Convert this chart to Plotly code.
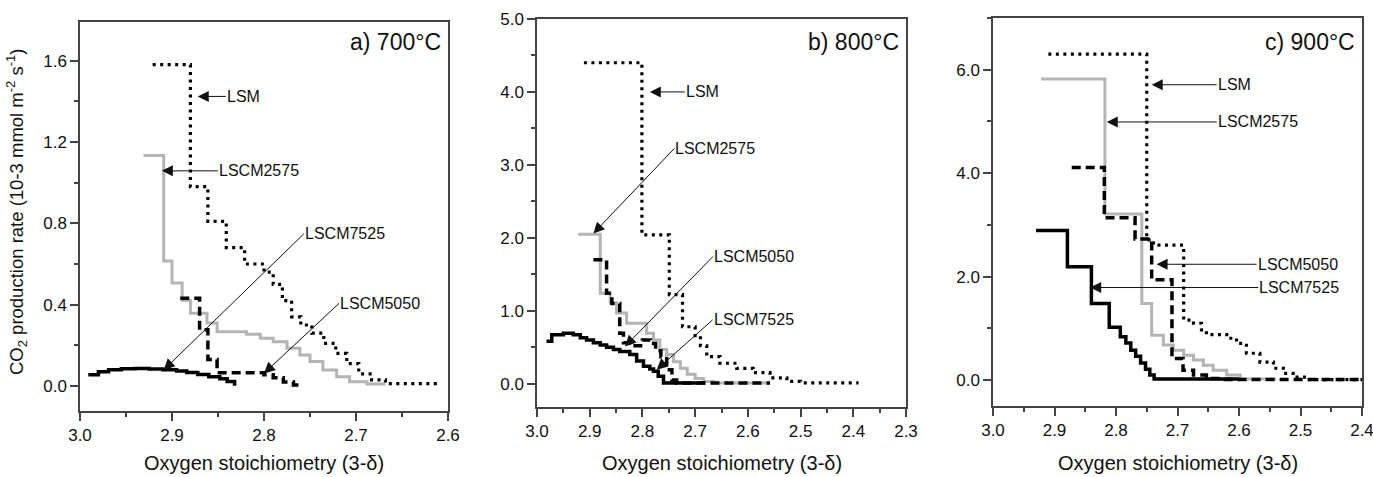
import plotly.graph_objects as go

# ---- 700 °C ----
lsm_700_x = [2.921, 2.880, 2.861, 2.841, 2.821, 2.800, 2.790, 2.780, 2.770, 2.760, 2.748, 2.735, 2.722, 2.710, 2.697, 2.683, 2.668, 2.610]
lsm_700_y = [1.58, 0.98, 0.81, 0.68, 0.60, 0.56, 0.50, 0.42, 0.34, 0.30, 0.26, 0.21, 0.16, 0.11, 0.06, 0.03, 0.012, 0.012]
l2575_700_x = [2.931, 2.909, 2.900, 2.889, 2.880, 2.862, 2.851, 2.819, 2.804, 2.790, 2.775, 2.761, 2.750, 2.736, 2.721, 2.707, 2.688, 2.668]
l2575_700_y = [1.134, 0.615, 0.506, 0.42, 0.358, 0.31, 0.267, 0.255, 0.235, 0.218, 0.186, 0.153, 0.12, 0.079, 0.046, 0.021, 0.01, 0.01]
l5050_700_x = [2.891, 2.870, 2.861, 2.851, 2.800, 2.790, 2.779, 2.768, 2.759]
l5050_700_y = [0.432, 0.276, 0.13, 0.065, 0.055, 0.04, 0.02, 0.005, 0.005]
l7525_700_x = [2.991, 2.980, 2.969, 2.955, 2.940, 2.925, 2.910, 2.895, 2.884, 2.872, 2.860, 2.848, 2.840, 2.832, 2.830]
l7525_700_y = [0.055, 0.07, 0.08, 0.085, 0.086, 0.084, 0.08, 0.074, 0.066, 0.057, 0.046, 0.035, 0.022, 0.01, 0.01]

# ---- 800 °C ----
lsm_800_x = [2.911, 2.801, 2.749, 2.724, 2.700, 2.690, 2.678, 2.653, 2.621, 2.590, 2.558, 2.526, 2.500, 2.390]
lsm_800_y = [4.40, 2.04, 1.22, 0.78, 0.66, 0.52, 0.37, 0.28, 0.21, 0.15, 0.08, 0.03, 0.01, 0.01]
l2575_800_x = [2.922, 2.880, 2.861, 2.849, 2.830, 2.811, 2.792, 2.779, 2.767, 2.754, 2.741, 2.728, 2.715, 2.700, 2.684, 2.665, 2.565]
l2575_800_y = [2.05, 1.24, 1.11, 0.97, 0.83, 0.83, 0.69, 0.60, 0.47, 0.40, 0.30, 0.21, 0.13, 0.07, 0.03, 0.01, 0.01]
l5050_800_x = [2.893, 2.868, 2.858, 2.843, 2.836, 2.825, 2.800, 2.785, 2.775, 2.765, 2.754, 2.744, 2.735, 2.558]
l5050_800_y = [1.70, 1.24, 1.10, 0.69, 0.56, 0.52, 0.60, 0.55, 0.45, 0.37, 0.19, 0.05, 0.01, 0.01]
l7525_800_x = [2.982, 2.972, 2.950, 2.931, 2.918, 2.906, 2.893, 2.880, 2.868, 2.855, 2.843, 2.824, 2.811, 2.798, 2.786, 2.779, 2.770, 2.760, 2.681]
l7525_800_y = [0.58, 0.67, 0.69, 0.67, 0.63, 0.60, 0.56, 0.53, 0.50, 0.47, 0.44, 0.40, 0.31, 0.24, 0.20, 0.17, 0.10, 0.01, 0.01]

# ---- 900 °C ----
lsm_900_x = [2.910, 2.750, 2.739, 2.690, 2.674, 2.661, 2.653, 2.620, 2.604, 2.588, 2.566, 2.544, 2.528, 2.512, 2.490, 2.400]
lsm_900_y = [6.30, 2.71, 2.61, 1.16, 1.10, 0.97, 0.88, 0.81, 0.71, 0.52, 0.35, 0.23, 0.13, 0.06, 0.01, 0.01]
l2575_900_x = [2.922, 2.818, 2.758, 2.742, 2.723, 2.707, 2.690, 2.674, 2.658, 2.642, 2.620, 2.598, 2.540]
l2575_900_y = [5.82, 3.21, 1.48, 0.87, 0.68, 0.58, 0.48, 0.39, 0.29, 0.19, 0.10, 0.02, 0.02]
l5050_900_x = [2.872, 2.819, 2.769, 2.742, 2.709, 2.691, 2.674, 2.653, 2.630, 2.400]
l5050_900_y = [4.11, 3.14, 2.73, 1.94, 0.42, 0.19, 0.10, 0.03, 0.01, 0.01]
l7525_900_x = [2.930, 2.879, 2.840, 2.811, 2.793, 2.784, 2.776, 2.768, 2.760, 2.752, 2.745, 2.738, 2.600]
l7525_900_y = [2.89, 2.19, 1.48, 1.02, 0.84, 0.72, 0.58, 0.46, 0.33, 0.21, 0.10, 0.02, 0.02]

panel_titles = ["a) 700°C", "b) 800°C", "c) 900°C"]
x_title = "Oxygen stoichiometry (3-δ)"
y_title = "CO<sub>2</sub> production rate (10-3 mmol m<sup>-2</sup> s<sup>-1</sup>)"

W, H = 1373, 477
FONT = "Liberation Sans, Arial, sans-serif"
AX = "#444444"

# plot boxes in pixels: (left, right, top, bottom)
boxes = [(80, 448, 22, 411), (537, 906, 19, 407), (993, 1362, 18, 406)]
x_ranges = [[3.0, 2.6], [3.0, 2.3], [3.0, 2.4]]
y_ranges = [[-0.123, 1.79], [-0.32, 5.0], [-0.5, 7.0]]
y_dticks = [0.4, 1.0, 2.0]

styles = {
    "2575": dict(color="#b4b4b4", width=3),
    "7525": dict(color="#000000", width=3.5),
    "5050": dict(color="#000000", width=3.5, dash="9px,5px"),
    "LSM": dict(color="#000000", width=3.2, dash="3px,4.5px"),
}

series = [
    [("2575", l2575_700_x, l2575_700_y), ("7525", l7525_700_x, l7525_700_y),
     ("5050", l5050_700_x, l5050_700_y), ("LSM", lsm_700_x, lsm_700_y)],
    [("2575", l2575_800_x, l2575_800_y), ("7525", l7525_800_x, l7525_800_y),
     ("5050", l5050_800_x, l5050_800_y), ("LSM", lsm_800_x, lsm_800_y)],
    [("2575", l2575_900_x, l2575_900_y), ("7525", l7525_900_x, l7525_900_y),
     ("5050", l5050_900_x, l5050_900_y), ("LSM", lsm_900_x, lsm_900_y)],
]

# label callouts: (text, arrow tip x, arrow tip y, label offset px dx, dy)
callouts = [
    [("LSM", 2.872, 1.424, 28, 0),
     ("LSCM2575", 2.911, 1.058, 56, 0),
     ("LSCM7525", 2.909, 0.079, 140, -136),
     ("LSCM5050", 2.800, 0.062, 75, -70)],
    [("LSM", 2.786, 4.0, 35, 0),
     ("LSCM2575", 2.893, 2.06, 81, -85),
     ("LSCM5050", 2.833, 0.51, 88, -90),
     ("LSCM7525", 2.773, 0.19, 56, -50)],
    [("LSM", 2.742, 5.71, 65, 0),
     ("LSCM2575", 2.815, 4.99, 110, 0),
     ("LSCM5050", 2.734, 2.24, 100, 0),
     ("LSCM7525", 2.842, 1.79, 168, 0)],
]

fig = go.Figure()
annotations = []
layout_axes = {}

for i in range(3):
    n = "" if i == 0 else str(i + 1)
    xa, ya = "x" + n, "y" + n
    for key, xs, ys in series[i]:
        fig.add_trace(go.Scatter(x=xs, y=ys, mode="lines", line_shape="hv",
                                 line=styles[key], xaxis=xa, yaxis=ya,
                                 showlegend=False, hoverinfo="skip"))
    l, r, t, b = boxes[i]
    common = dict(showline=True, linecolor=AX, linewidth=1.5, mirror=True,
                  ticks="outside", ticklen=8, tickwidth=1.5, tickcolor=AX,
                  showgrid=False, zeroline=False, tickformat=".1f",
                  automargin=False, ticklabeloverflow="allow",
                  tickfont=dict(family=FONT, size=17, color="#111111"))
    layout_axes["xaxis" + n] = dict(
        common, domain=[l / W, r / W], range=x_ranges[i], dtick=0.1, tick0=0,
        anchor=ya, minor=dict(dtick=0.05, ticks="outside", ticklen=4,
                              tickwidth=1.5, tickcolor=AX))
    layout_axes["yaxis" + n] = dict(
        common, domain=[1 - b / H, 1 - t / H], range=y_ranges[i],
        dtick=y_dticks[i], tick0=0, anchor=xa,
        minor=dict(dtick=y_dticks[i] / 2, ticks="outside", ticklen=4,
                   tickwidth=1.5, tickcolor=AX))

    # panel title
    annotations.append(dict(text=panel_titles[i], xref="paper", yref="paper",
                            x=(r - 5) / W, y=1 - 42 / H, xanchor="right",
                            yanchor="middle", showarrow=False,
                            font=dict(family=FONT, size=23, color="#111111")))
    # x-axis title
    annotations.append(dict(text=x_title, xref="paper", yref="paper",
                            x=(l + r) / 2 / W, y=1 - 463 / H, xanchor="center",
                            yanchor="middle", showarrow=False,
                            font=dict(family=FONT, size=20, color="#111111")))
    # labelled arrows: label box sits at the arrow tail
    for text, hx, hy, dx, dy in callouts[i]:
        annotations.append(dict(text=text, x=hx, y=hy, xref=xa, yref=ya,
                                ax=dx, ay=dy, showarrow=True, arrowhead=2,
                                arrowsize=2.2, arrowwidth=1, arrowcolor="#111111",
                                standoff=0, xanchor="left", yanchor="middle",
                                borderpad=0,
                                font=dict(family=FONT, size=16, color="#111111")))

annotations.append(dict(text=y_title, xref="paper", yref="paper",
                        x=16 / W, y=1 - 212 / H, xanchor="center",
                        yanchor="middle", textangle=-90, showarrow=False,
                        font=dict(family=FONT, size=18.5, color="#111111")))

fig.update_layout(template="none", width=W, height=H,
                  margin=dict(l=0, r=0, t=0, b=0, autoexpand=False),
                  paper_bgcolor="white", plot_bgcolor="white",
                  annotations=annotations, **layout_axes)

fig.write_html("out.html")
